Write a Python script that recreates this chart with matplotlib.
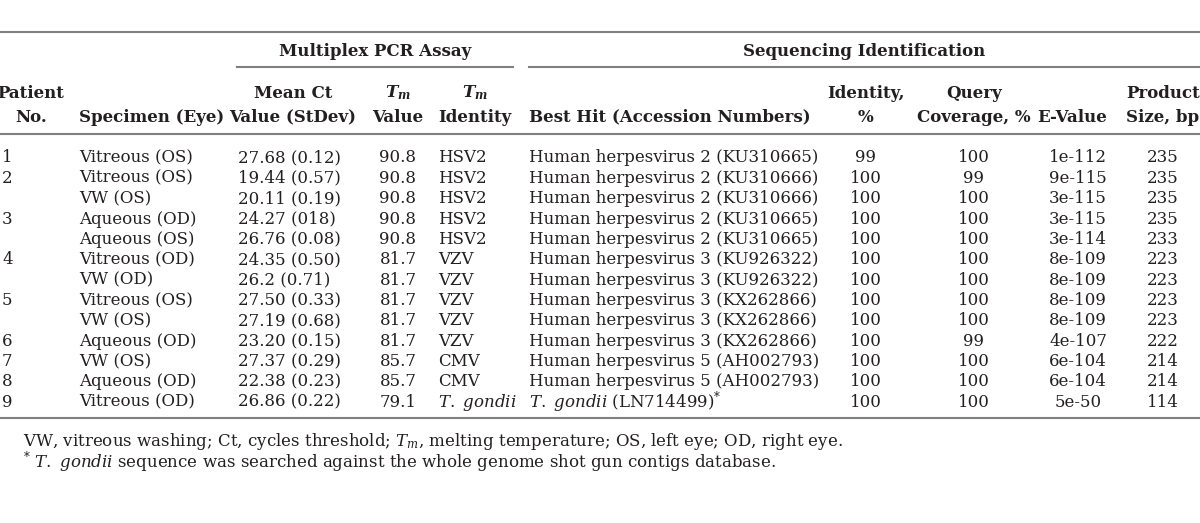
import matplotlib
matplotlib.use("Agg")
import matplotlib.pyplot as plt

# table contents
patient_no = ["1", "2", "", "3", "", "4", "", "5", "", "6", "7", "8", "9"]
specimen = ["Vitreous (OS)", "Vitreous (OS)", "VW (OS)", "Aqueous (OD)", "Aqueous (OS)",
            "Vitreous (OD)", "VW (OD)", "Vitreous (OS)", "VW (OS)", "Aqueous (OD)",
            "VW (OS)", "Aqueous (OD)", "Vitreous (OD)"]
mean_ct = ["27.68 (0.12)", "19.44 (0.57)", "20.11 (0.19)", "24.27 (018)", "26.76 (0.08)",
           "24.35 (0.50)", "26.2 (0.71)", "27.50 (0.33)", "27.19 (0.68)", "23.20 (0.15)",
           "27.37 (0.29)", "22.38 (0.23)", "26.86 (0.22)"]
tm_value = ["90.8", "90.8", "90.8", "90.8", "90.8", "81.7", "81.7", "81.7", "81.7", "81.7",
            "85.7", "85.7", "79.1"]
tm_identity = ["HSV2", "HSV2", "HSV2", "HSV2", "HSV2", "VZV", "VZV", "VZV", "VZV", "VZV",
               "CMV", "CMV", r"$\mathit{T.\ gondii}$"]
best_hit = ["Human herpesvirus 2 (KU310665)", "Human herpesvirus 2 (KU310666)",
            "Human herpesvirus 2 (KU310666)", "Human herpesvirus 2 (KU310665)",
            "Human herpesvirus 2 (KU310665)", "Human herpesvirus 3 (KU926322)",
            "Human herpesvirus 3 (KU926322)", "Human herpesvirus 3 (KX262866)",
            "Human herpesvirus 3 (KX262866)", "Human herpesvirus 3 (KX262866)",
            "Human herpesvirus 5 (AH002793)", "Human herpesvirus 5 (AH002793)",
            r"$\mathit{T.\ gondii}$ (LN714499)$^{*}$"]
identity_pct = ["99", "100", "100", "100", "100", "100", "100", "100", "100", "100",
                "100", "100", "100"]
query_cov = ["100", "99", "100", "100", "100", "100", "100", "100", "100", "99",
             "100", "100", "100"]
e_value = ["1e-112", "9e-115", "3e-115", "3e-115", "3e-114", "8e-109", "8e-109", "8e-109",
           "8e-109", "4e-107", "6e-104", "6e-104", "5e-50"]
product_size = ["235", "235", "235", "235", "233", "223", "223", "223", "223", "222",
                "214", "214", "114"]

footnotes = [r"VW, vitreous washing; Ct, cycles threshold; $T_m$, melting temperature; OS, left eye; OD, right eye.",
             r"$^{*}$ $\mathit{T.\ gondii}$ sequence was searched against the whole genome shot gun contigs database."]

plt.rcParams["font.family"] = "DejaVu Serif"
plt.rcParams["mathtext.fontset"] = "dejavuserif"

ink = "#231f20"
rule = "#808080"
fs = 12

fig = plt.figure(figsize=(12, 5.23), dpi=100)
ax = fig.add_axes([0, 0, 1, 1])
ax.set_xlim(0, 1200)
ax.set_ylim(523, 0)
ax.axis("off")

# rules
for y in (32, 134, 418):
    ax.plot([0, 1200], [y, y], color=rule, lw=1.5)
ax.plot([237, 513], [67, 67], color=rule, lw=1.5)
ax.plot([529, 1200], [67, 67], color=rule, lw=1.5)

# group headers
ax.text(375, 52, "Multiplex PCR Assay", ha="center", va="center", fontsize=fs,
        fontweight="bold", color=ink)
ax.text(864, 52, "Sequencing Identification", ha="center", va="center", fontsize=fs,
        fontweight="bold", color=ink)

# column headers: (x, align, line1, line2)
headers = [
    (31, "center", "Patient", "No."),
    (79, "left", "", "Specimen (Eye)"),
    (293, "center", "Mean Ct", "Value (StDev)"),
    (398, "center", r"$\mathbfit{T_m}$", "Value"),
    (475, "center", r"$\mathbfit{T_m}$", "Identity"),
    (529, "left", "", "Best Hit (Accession Numbers)"),
    (866, "center", "Identity,", "%"),
    (974, "center", "Query", "Coverage, %"),
    (1072, "center", "", "E-Value"),
    (1163, "center", "Product", "Size, bp"),
]
for x, ha, l1, l2 in headers:
    if l1:
        ax.text(x, 93, l1, ha=ha, va="center", fontsize=fs, fontweight="bold", color=ink)
    ax.text(x, 117, l2, ha=ha, va="center", fontsize=fs, fontweight="bold", color=ink)

# body
columns = [
    (patient_no, 2, "left"),
    (specimen, 79, "left"),
    (mean_ct, 238, "left"),
    (tm_value, 398, "center"),
    (tm_identity, 438, "left"),
    (best_hit, 529, "left"),
    (identity_pct, 866, "center"),
    (query_cov, 974, "center"),
    (e_value, 1078, "center"),
    (product_size, 1163, "center"),
]
y0, dy = 158, 20.35
for values, x, ha in columns:
    for i, v in enumerate(values):
        ax.text(x, y0 + i * dy, v, ha=ha, va="center", fontsize=fs, color=ink)

for i, note in enumerate(footnotes):
    ax.text(23, 441 + i * 21, note, ha="left", va="center", fontsize=fs, color=ink)

fig.savefig("out.png", dpi=100, facecolor="white")
